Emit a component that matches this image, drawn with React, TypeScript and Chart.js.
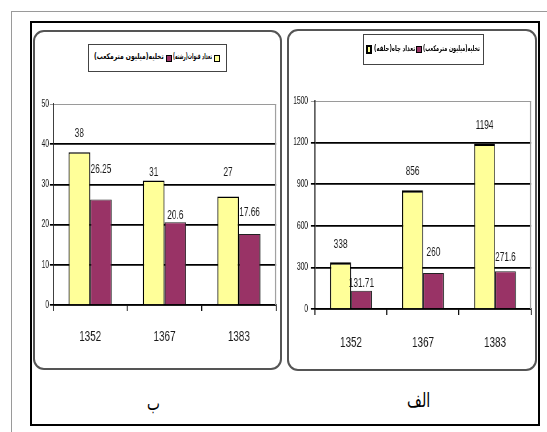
import React, { useEffect, useLayoutEffect, useRef } from 'react';
import { Chart, registerables } from 'chart.js';

Chart.register(...registerables);

// ---- data ----
const years = ['1352', '1367', '1383'];

// panel "ب": qanats
const qanatCount = [38, 31, 27];
const qanatDischarge = [26.25, 20.6, 17.66];
const qanatAxisMax = 50;
const qanatAxisStep = 10;

// panel "الف": wells
const wellCount = [338, 856, 1194];
const wellDischarge = [131.71, 260, 271.6];
const wellAxisMax = 1500;
const wellAxisStep = 300;

const qanatLegend = ['تعداد قنوات(رشته)', 'تخلیه(میلیون مترمکعب)'];
const wellLegend = ['تعداد چاه(حلقه)', 'تخلیه(میلیون مترمکعب)'];
const captionQanat = 'ب';
const captionWell = 'الف';

// ---- styling ----
const SANS = '"Liberation Sans", Arial, sans-serif';
const ARABIC = '"DejaVu Sans", sans-serif';
const YELLOW = '#FFFF99';
const MAROON = '#993366';
// the charts are laid out wide and squeezed horizontally for a condensed look
const SQUEEZE = 0.66;

// how far above each bar top its value label sits (px)
const qanatLabelRise = [
  [19, 8, 24],
  [30, 7, 21],
];
const wellLabelRise = [
  [18, 19, 18],
  [7, 20, 14],
];

const panelDecor = {
  id: 'panelDecor',
  afterDatasetsDraw(chart: any, _args: any, opts: any) {
    const { ctx, chartArea } = chart;
    ctx.save();
    ctx.strokeStyle = '#9a9a9a';
    ctx.lineWidth = 1.5;
    ctx.beginPath();
    ctx.moveTo(chartArea.right - 0.75, chartArea.top);
    ctx.lineTo(chartArea.right - 0.75, chartArea.bottom);
    ctx.stroke();

    ctx.font = `12.5px ${SANS}`;
    ctx.fillStyle = '#1a1a1a';
    ctx.textAlign = 'center';
    ctx.textBaseline = 'middle';
    chart.data.datasets.forEach((ds: any, di: number) => {
      const meta = chart.getDatasetMeta(di);
      const rise = opts.rises[di];
      meta.data.forEach((bar: any, i: number) => {
        ctx.fillText(String(ds.data[i]), bar.x, bar.y - rise[i]);
      });
    });
    ctx.restore();
  },
};

type PanelProps = {
  left: number;
  top: number;
  width: number;
  height: number;
  counts: number[];
  discharges: number[];
  yMax: number;
  yStep: number;
  rises: number[][];
  pad: { top: number; right: number; bottom: number };
  yAxisWidth: number;
  yTickLen: number;
  yTickPad: number;
  xTickPad: number;
  countTopBorder: number;
};

function BarPanel(p: PanelProps) {
  const ref = useRef<HTMLCanvasElement>(null);
  const cw = Math.round(p.width / SQUEEZE);
  const sx = p.width / cw;
  useEffect(() => {
    if (!ref.current) return;
    const chart = new Chart(ref.current, {
      type: 'bar',
      data: {
        labels: years,
        datasets: [
          {
            data: p.counts,
            backgroundColor: YELLOW,
            borderColor: '#000',
            borderWidth: { top: p.countTopBorder, left: 1.5, right: 1.5, bottom: 0 },
            borderSkipped: false,
            categoryPercentage: 0.58,
            barPercentage: 1,
          },
          {
            data: p.discharges,
            backgroundColor: MAROON,
            borderColor: '#222',
            borderWidth: { top: 1, left: 1.5, right: 1.5, bottom: 0 },
            borderSkipped: false,
            categoryPercentage: 0.58,
            barPercentage: 1,
          },
        ],
      },
      options: {
        responsive: false,
        maintainAspectRatio: false,
        animation: false,
        devicePixelRatio: 1,
        layout: {
          padding: { top: p.pad.top, right: p.pad.right / sx, bottom: p.pad.bottom, left: 0 },
        },
        plugins: {
          legend: { display: false },
          tooltip: { enabled: false },
          panelDecor: { rises: p.rises },
        } as any,
        scales: {
          x: {
            grid: {
              offset: true,
              drawOnChartArea: false,
              drawTicks: true,
              tickLength: 6,
              color: '#000',
              lineWidth: 1.5,
            },
            border: { display: true, color: '#000', width: 1.5 },
            ticks: {
              font: { family: SANS, size: 15 },
              color: '#1a1a1a',
              padding: p.xTickPad,
            },
            afterFit: (s: any) => {
              s.height = 45;
              s.paddingLeft = 0;
              s.paddingRight = 0;
            },
          },
          y: {
            min: 0,
            max: p.yMax,
            ticks: {
              stepSize: p.yStep,
              font: { family: SANS, size: 10 },
              color: '#1a1a1a',
              padding: p.yTickPad / sx,
              callback: (v: any) => String(v),
            },
            grid: {
              color: (c: any) => (c.tick && c.tick.value === p.yMax ? '#9a9a9a' : '#000'),
              lineWidth: (c: any) => (c.tick && c.tick.value === p.yMax ? 1 : 1.7),
              tickLength: p.yTickLen / sx,
              drawTicks: true,
            },
            border: { display: true, color: '#000', width: 1.5 },
            afterFit: (s: any) => {
              s.width = p.yAxisWidth / sx;
              s.paddingTop = 0;
              s.paddingBottom = 0;
            },
          },
        },
      },
      plugins: [panelDecor as any],
    });
    return () => chart.destroy();
  }, []);
  return (
    <div
      style={{
        position: 'absolute',
        left: p.left,
        top: p.top,
        width: cw,
        height: p.height,
        transform: `scaleX(${sx})`,
        transformOrigin: '0 0',
      }}
    >
      <canvas ref={ref} width={cw} height={p.height} style={{ display: 'block', width: cw, height: p.height }} />
    </div>
  );
}

const abs = (s: React.CSSProperties): React.CSSProperties => ({ position: 'absolute', ...s });

function Swatch({ x, y, w, h, color, border }: { x: number; y: number; w: number; h: number; color: string; border: number }) {
  return (
    <div
      style={abs({
        left: x,
        top: y,
        width: w,
        height: h,
        background: color,
        border: `${border}px solid #000`,
        boxSizing: 'border-box',
      })}
    />
  );
}

// text squeezed horizontally to a given width
function FitText({ x, y, w, text, size, bold }: { x: number; y: number; w: number; text: string; size: number; bold?: boolean }) {
  const ref = useRef<HTMLSpanElement>(null);
  useLayoutEffect(() => {
    const el = ref.current;
    if (!el) return;
    const natural = el.offsetWidth;
    if (natural > 0) el.style.transform = `scaleX(${w / natural})`;
  }, [text, w]);
  return (
    <span
      ref={ref}
      dir="rtl"
      style={abs({
        left: x,
        top: y,
        whiteSpace: 'nowrap',
        transformOrigin: '0 0',
        fontFamily: ARABIC,
        fontWeight: bold ? 'bold' : 'normal',
        fontSize: size,
        lineHeight: `${Math.round(size * 1.3)}px`,
        color: '#000',
      })}
    >
      {text}
    </span>
  );
}

export default function App() {
  useEffect(() => {
    document.body.style.margin = '0';
    document.body.style.background = '#fff';
  }, []);
  return (
    <div style={{ position: 'relative', width: 547, height: 432, background: '#fff', overflow: 'hidden' }}>
      {/* outer hairline */}
      <div style={abs({ left: 11, top: 11, width: 560, height: 440, borderLeft: '1px solid #9a9a9a', borderTop: '1px solid #9a9a9a' })} />
      {/* heavy frame */}
      <div style={abs({ left: 30, top: 21, width: 510, height: 405, border: '2px solid #000', boxSizing: 'border-box' })} />

      {/* rounded chart boxes */}
      <div style={abs({ left: 33, top: 30, width: 249, height: 340, border: '2px solid #555', borderRadius: 11, boxSizing: 'border-box' })} />
      <div style={abs({ left: 287, top: 29, width: 250, height: 342, border: '2px solid #555', borderRadius: 11, boxSizing: 'border-box' })} />

      <BarPanel
        left={35}
        top={32}
        width={246}
        height={336}
        counts={qanatCount}
        discharges={qanatDischarge}
        yMax={qanatAxisMax}
        yStep={qanatAxisStep}
        rises={qanatLabelRise}
        pad={{ top: 72, right: 5, bottom: 18 }}
        yAxisWidth={18}
        yTickLen={3}
        yTickPad={1}
        xTickPad={17}
        countTopBorder={1.5}
      />
      <BarPanel
        left={290}
        top={31}
        width={246}
        height={338}
        counts={wellCount}
        discharges={wellDischarge}
        yMax={wellAxisMax}
        yStep={wellAxisStep}
        rises={wellLabelRise}
        pad={{ top: 70, right: 5, bottom: 15 }}
        yAxisWidth={25}
        yTickLen={4}
        yTickPad={3}
        xTickPad={19}
        countTopBorder={2.5}
      />

      {/* legend: qanats */}
      <div style={abs({ left: 88, top: 44, width: 139, height: 28, border: '1px solid #444', boxSizing: 'border-box', background: '#fff' })} />
      <FitText x={94} y={52} w={70} text={qanatLegend[1]} size={8} bold />
      <Swatch x={166} y={55} w={6} h={7} color={MAROON} border={1} />
      <FitText x={173} y={52} w={39} text={qanatLegend[0]} size={8} bold />
      <Swatch x={214} y={55} w={6} h={7} color={YELLOW} border={1} />

      {/* legend: wells */}
      <div style={abs({ left: 363, top: 34, width: 121, height: 31, border: '1px solid #444', boxSizing: 'border-box', background: '#fff' })} />
      <Swatch x={366} y={45} w={6} h={9} color={YELLOW} border={2} />
      <FitText x={374} y={44} w={41} text={wellLegend[0]} size={8} bold />
      <Swatch x={416} y={46} w={6} h={7} color={MAROON} border={1} />
      <FitText x={423} y={44} w={57} text={wellLegend[1]} size={8} bold />

      {/* panel captions */}
      <FitText x={147} y={390} w={13} text={captionQanat} size={20} />
      <FitText x={407} y={387} w={23} text={captionWell} size={20} />
    </div>
  );
}
